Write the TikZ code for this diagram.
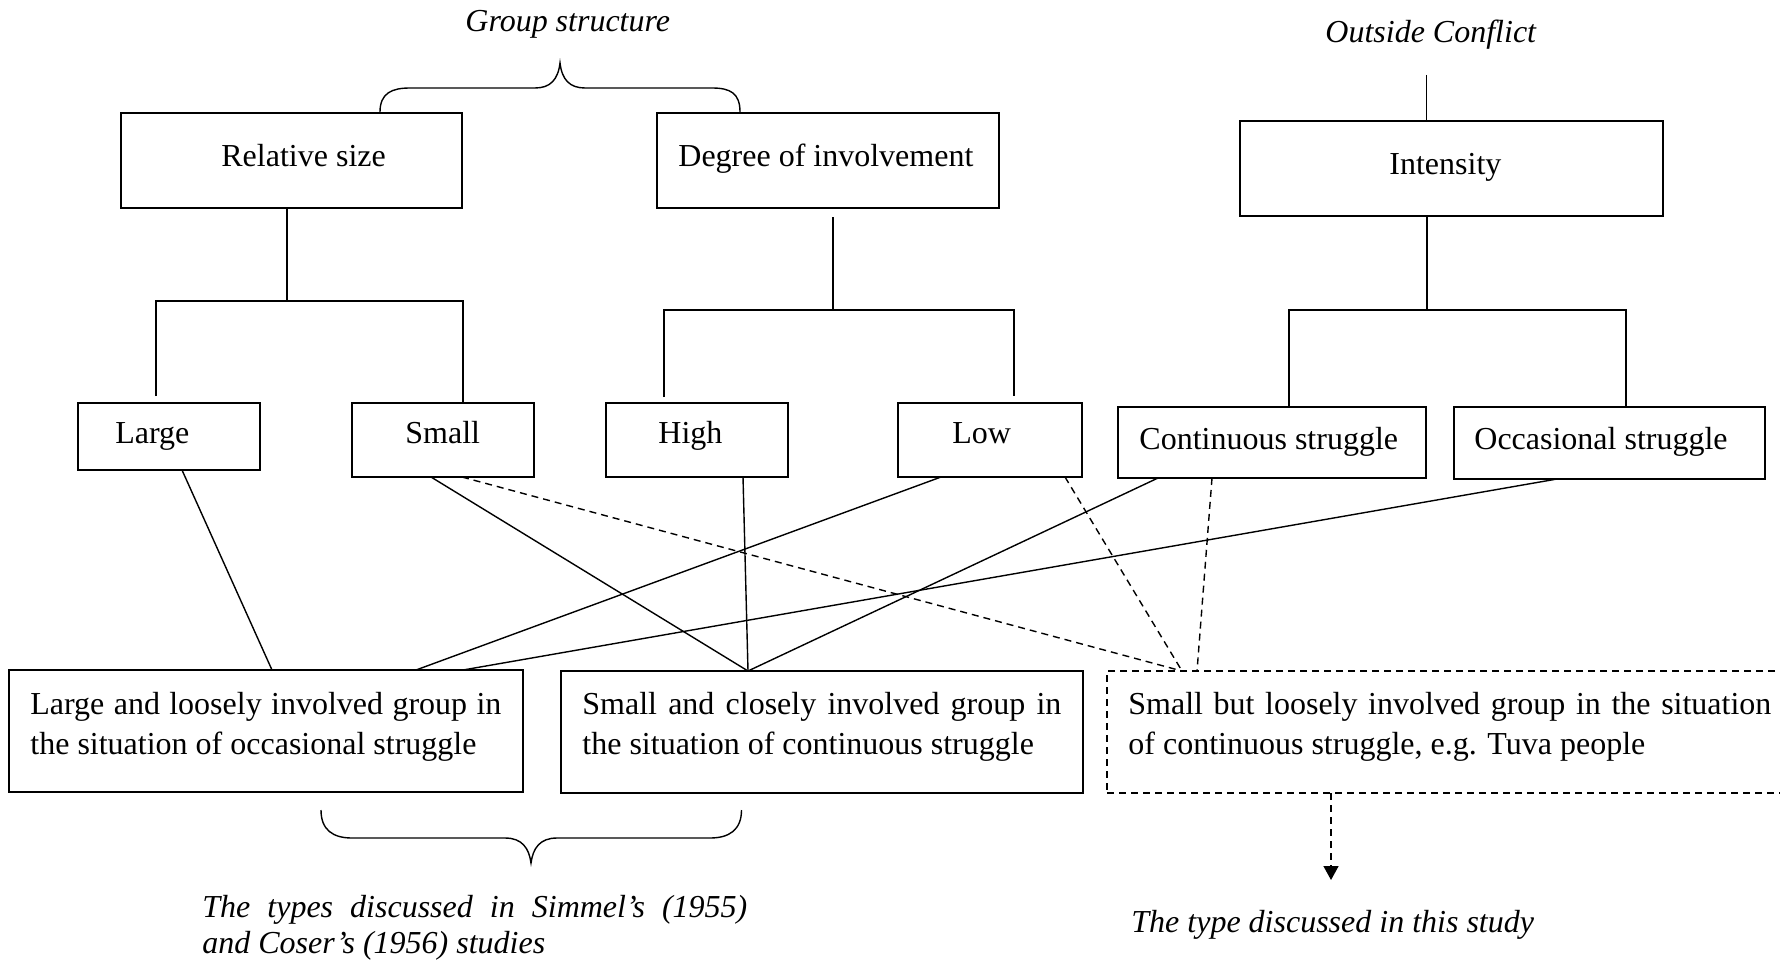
\documentclass[tikz,border=0pt]{standalone}
\usepackage{fontspec}
\setmainfont{Liberation Serif}
\usetikzlibrary{arrows.meta}

\begin{document}
\begin{tikzpicture}[x=0.5pt,y=-0.5pt,
  box/.style n args={2}{draw, line width=0.8pt, inner sep=0pt, outer sep=0pt,
    minimum width=#1*0.5pt, minimum height=#2*0.5pt},
  dashbox/.style={dash pattern=on 3.5pt off 2.5pt},
  lbl/.style={anchor=base west, inner sep=0pt, font=\fontsize{16pt}{20pt}\selectfont},
  ilbl/.style={lbl, font=\fontsize{16pt}{20pt}\selectfont\itshape},
  para/.style={anchor=north west, inner sep=0pt, align=left,
    font=\fontsize{16pt}{20pt}\selectfont},
  conn/.style={line width=0.7pt},
  dconn/.style={conn, dash pattern=on 3.5pt off 2.5pt},
  brace/.style={line width=0.7pt}]

\useasboundingbox (0,0) rectangle (1780,963);

% headings
\node[ilbl] (gs) at (465,32) {Group structure};
\node[ilbl] (oc) at (1325,43) {Outside Conflict};

% first level
\node[box={341}{95}] (rel) at (291.5,160.5) {};
\node[box={342}{95}] (deg) at (828,160.5) {};
\node[box={423}{95}] (inten) at (1451.5,168.5) {};
\node[lbl] (relT) at (221,166) {Relative size};
\node[lbl] (degT) at (678,166) {Degree of involvement};
\node[lbl] (intenT) at (1389,174) {Intensity};

% second level
\node[box={182}{67}] (large) at (169,436.5) {};
\node[box={182}{74}] (small) at (443,440) {};
\node[box={182}{74}] (high) at (697,440) {};
\node[box={184}{74}] (low) at (990,440) {};
\node[box={308}{71}] (cont) at (1272,442.5) {};
\node[box={311}{72}] (occ) at (1609.5,443) {};
\node[lbl] (largeT) at (115,443) {Large};
\node[lbl] (smallT) at (405,443) {Small};
\node[lbl] (highT) at (658,443) {High};
\node[lbl] (lowT) at (952,443) {Low};
\node[lbl] (contT) at (1139,449) {Continuous struggle};
\node[lbl] (occT) at (1474,449) {Occasional struggle};

% resulting types
\node[box={514}{122}] (typeA) at (266,731) {};
\node[box={522}{122}] (typeB) at (822,732) {};
\node[box={693}{122}, dashbox] (typeC) at (1453.5,732) {};
\node[para] (typeAT) at (30,690)
  {\rule{0pt}{12pt}\makebox[235.5pt][s]{Large and loosely involved group in}\\
   the situation of occasional struggle};
\node[para] (typeBT) at (582,690)
  {\rule{0pt}{12pt}\makebox[239.5pt][s]{Small and closely involved group in}\\
   the situation of continuous struggle};
\node[para] (typeCT) at (1128,690)
  {\rule{0pt}{12pt}\makebox[321.5pt][s]{Small but loosely involved group in the situation}\\
   of continuous struggle, e.g. Tuva people};

% captions
\node[para, font=\fontsize{16pt}{18pt}\selectfont\itshape] (simT) at (202,893)
  {\rule{0pt}{12pt}\makebox[272.5pt][s]{The types discussed in Simmel's (1955)}\\
   and Coser's (1956) studies};
\node[ilbl] (studyT) at (1131,932) {The type discussed in this study};

% tree connectors
\coordinate (ocTop) at (1426.5,75);
\draw[conn] (ocTop) -- (ocTop |- inten.north);

\coordinate (relJ) at (287,301);
\coordinate (relL) at (156,396);
\coordinate (relR) at (463,301);
\draw[conn] (relJ |- rel.south) -- (relJ);
\draw[conn] (relL) |- (relR) -- (relR |- small.north);

\coordinate (degTop) at (833,217);
\coordinate (degJ) at (833,310);
\coordinate (degL) at (664,397);
\coordinate (degR) at (1014,310);
\coordinate (degRend) at (1014,396);
\draw[conn] (degTop) -- (degJ);
\draw[conn] (degL) |- (degR) -- (degRend);

\coordinate (intJ) at (1427,310);
\coordinate (intL) at (1289,310);
\coordinate (intR) at (1626,310);
\draw[conn] (intJ |- inten.south) -- (intJ);
\draw[conn] (intL |- cont.north) -- (intL) -- (intR) -- (intR |- occ.north);

% links from categories to types
\draw[conn] ([xshift=6.5pt]large.south) -- ([xshift=3pt]typeA.north);
\draw[conn] ([xshift=-6pt]small.south) -- ([xshift=-37pt]typeB.north);
\draw[conn] ([xshift=23pt]high.south) -- ([xshift=-37pt]typeB.north);
\draw[conn] ([xshift=-24.5pt]low.south) -- ([xshift=75pt]typeA.north);
\draw[conn] ([xshift=-57pt]cont.south) -- ([xshift=-37pt]typeB.north);
\draw[conn] ([xshift=-26.25pt]occ.south) -- ([xshift=98.5pt]typeA.north);

\draw[dconn] ([xshift=9.5pt]small.south) -- ([xshift=-135.75pt]typeC.north);
\draw[dconn] ([xshift=37.5pt]low.south) -- ([xshift=-135.75pt]typeC.north);
\draw[dconn] ([xshift=-30pt]cont.south) -- ([xshift=-128.25pt]typeC.north);

\coordinate (arrEnd) at (1331,880);
\draw[dconn, -{Triangle[length=7pt,width=7.5pt]}] (arrEnd |- typeC.south) -- (arrEnd);

% braces
\draw[brace] (380,112) .. controls (380,93) and (392,88) .. (410,88) -- (535,88)
  .. controls (550,88) and (558,80) .. (560,63)
  .. controls (562,80) and (570,88) .. (585,88) -- (712,88)
  .. controls (730,88) and (740,93) .. (740,112);
\draw[brace] (321,810) .. controls (321,830) and (333,838) .. (352,838) -- (505,838)
  .. controls (522,838) and (529,848) .. (531,863)
  .. controls (533,848) and (540,838) .. (557,838) -- (710,838)
  .. controls (729,838) and (741.5,830) .. (741.5,810);
\end{tikzpicture}
\end{document}
